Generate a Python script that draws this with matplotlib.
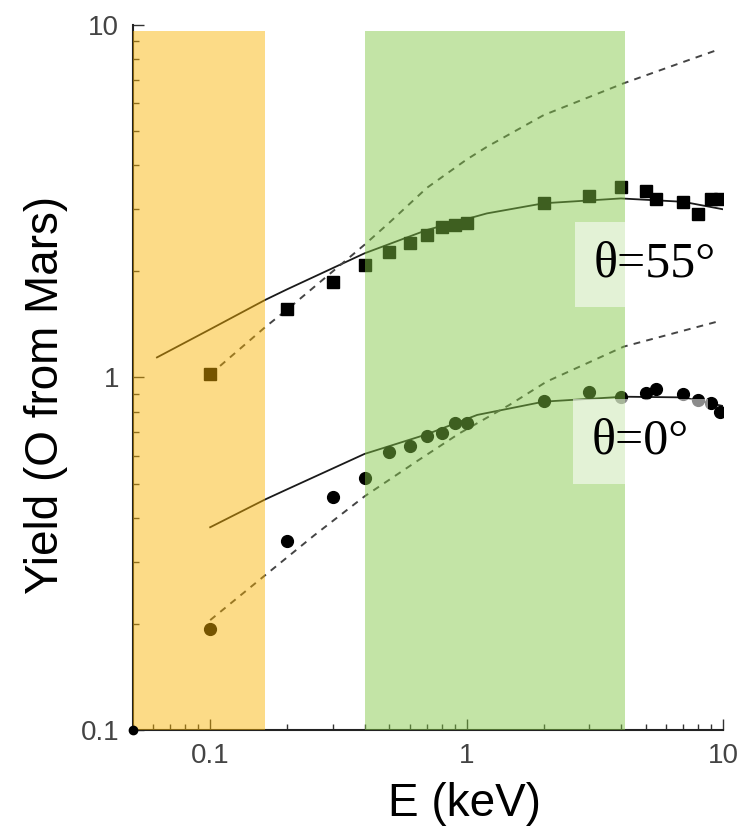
import numpy as np
import matplotlib.pyplot as plt

# ------------------------------------------------------------------
# DATA
# ------------------------------------------------------------------
# measured yields, theta = 55 deg (squares)
e_55 = [0.1, 0.2, 0.3, 0.4, 0.5, 0.6, 0.7, 0.8, 0.9, 1.0,
        2.0, 3.0, 4.0, 5.0, 5.5, 7.0, 8.0, 9.0, 9.7]
y_55 = [1.02, 1.56, 1.86, 2.08, 2.27, 2.40, 2.54, 2.68, 2.71, 2.75,
        3.12, 3.27, 3.46, 3.37, 3.20, 3.15, 2.90, 3.20, 3.20]

# measured yields, theta = 0 deg (circles)
e_0 = [0.1, 0.2, 0.3, 0.4, 0.5, 0.6, 0.7, 0.8, 0.9, 1.0,
       2.0, 3.0, 4.0, 5.0, 5.5, 7.0, 8.0, 9.0, 9.7]
y_0 = [0.193, 0.344, 0.459, 0.518, 0.616, 0.639, 0.683, 0.697, 0.744, 0.744,
       0.86, 0.911, 0.879, 0.906, 0.926, 0.898, 0.863, 0.845, 0.80]

# model curves (solid)
fit55_e = [0.062, 0.1, 0.164, 0.2, 0.4, 0.7, 1.2, 2.0, 4.0, 7.0, 10.0]
fit55_y = [1.14, 1.37, 1.66, 1.78, 2.25, 2.62, 2.92, 3.12, 3.22, 3.15, 3.0]
fit0_e = [0.1, 0.164, 0.2, 0.4, 0.7, 1.1, 2.0, 4.1, 7.0, 10.0]
fit0_y = [0.376, 0.451, 0.482, 0.607, 0.69, 0.783, 0.854, 0.882, 0.878, 0.83]

# model curves (dashed)
alt55_e = [0.1, 0.164, 0.2, 0.26, 0.4, 0.5, 0.7, 1.0, 1.2, 2.0, 4.1, 7.0, 9.5]
alt55_y = [1.02, 1.39, 1.56, 1.83, 2.38, 2.75, 3.45, 4.15, 4.51, 5.55, 6.83, 7.85, 8.49]
alt0_e = [0.1, 0.164, 0.255, 0.4, 0.65, 0.94, 1.47, 2.05, 4.1, 9.5]
alt0_y = [0.205, 0.275, 0.357, 0.46, 0.583, 0.695, 0.836, 0.973, 1.223, 1.44]

# corner point
corner_e = [0.05]
corner_y = [0.1]

# energy bands
orange_band = (0.05, 0.164)
green_band = (0.40, 4.14)
band_top = 9.6

# ------------------------------------------------------------------
# FIGURE
# ------------------------------------------------------------------
plt.rcParams['font.family'] = ['Liberation Sans', 'DejaVu Sans']

fig, ax = plt.subplots(figsize=(7.43, 8.31), dpi=100)
fig.subplots_adjust(left=0.179, right=0.973, bottom=0.1215, top=0.970)

ax.set_xscale('log')
ax.set_yscale('log')
ax.set_xlim(0.05, 10)
ax.set_ylim(0.1, 10)

dash = (3.5, 3.2)
ax.plot(fit55_e, fit55_y, color='#1a1a1a', lw=1.3, zorder=2)
ax.plot(fit0_e, fit0_y, color='#1a1a1a', lw=1.3, zorder=2)
ax.plot(alt55_e, alt55_y, color='#444444', lw=1.4, dashes=dash, zorder=2)
ax.plot(alt0_e, alt0_y, color='#444444', lw=1.4, dashes=dash, zorder=2)

ax.plot(e_55, y_55, 's', color='black', ms=8, zorder=2)
ax.plot(e_0, y_0, 'o', color='black', ms=8.5, zorder=2)
ax.plot(corner_e, corner_y, 'o', color='black', ms=6, clip_on=False, zorder=6)

# translucent bands laid over the data (tints the markers like the original)
ax.fill_between(orange_band, 0.1, band_top, color=(0.98, 0.70, 0.0),
                alpha=0.47, lw=0, zorder=3)
ax.fill_between(green_band, 0.1, band_top, color=(0.51, 0.78, 0.27),
                alpha=0.48, lw=0, zorder=3)

# angle labels
box = dict(boxstyle='square,pad=0.38', facecolor='white', alpha=0.55,
           edgecolor='none')
ax.text(0.781, 0.66, 'θ=55°', transform=ax.transAxes, fontsize=36,
        family=['Liberation Serif', 'DejaVu Serif'], ha='left', va='center',
        bbox=box, zorder=5)
ax.text(0.778, 0.409, 'θ=0°', transform=ax.transAxes, fontsize=36,
        family=['Liberation Serif', 'DejaVu Serif'], ha='left', va='center',
        bbox=box, zorder=5)

# axes styling
ticks = [0.1, 1, 10]
tick_labels = ['0.1', '1', '10']
ax.set_xticks(ticks)
ax.set_xticklabels(tick_labels)
ax.set_yticks(ticks)
ax.set_yticklabels(tick_labels)
ax.tick_params(which='both', direction='in', color='#333333', width=1.0)
ax.tick_params(which='major', length=8, labelsize=20, labelcolor='#444444')
ax.tick_params(which='minor', length=4)
ax.tick_params(axis='x', pad=9)
ax.tick_params(axis='y', pad=10)

for side in ['top', 'right']:
    ax.spines[side].set_visible(False)
for side in ['left', 'bottom']:
    ax.spines[side].set_linewidth(1.5)
    ax.spines[side].set_color('#222222')

ax.set_xlabel('E (keV)', fontsize=33, va='center')
ax.xaxis.set_label_coords(0.562, -0.105)
ax.set_ylabel('Yield (O from Mars)', fontsize=33, va='center')
ax.yaxis.set_label_coords(-0.148, 0.475)

fig.savefig('out.png', dpi=100)
